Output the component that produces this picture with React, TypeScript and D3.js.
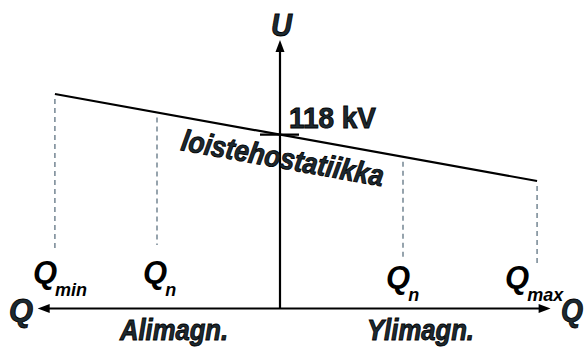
import React from "react";
import * as d3 from "d3";

// ---- data ----
const markerNames = ["Q", "Q", "Q", "Q"];
const markerSubs = ["min", "n", "n", "max"];
const markerQ = [-1.83, -1, 1, 2.09];
const lineQ = [-1.83, 2.09];
const lineU = [122.06, 113.36];
const refU = 118;
const refLabel = "118 kV";
const curveLabel = "loistehostatiikka";
const yAxisLabel = "U";
const xAxisLabel = "Q";
const leftRegion = "Alimagn.";
const rightRegion = "Ylimagn.";

// ---- layout / style ----
const W = 584;
const H = 347;
const FONT = "'Liberation Sans', Arial, sans-serif";
const OUT_FILL = "#1d2a31";
const DASH = "#5f7382";
const axisY = 308.5;
const axisTop = 40;
const qLeftEnd = -1.97;
const qRightEnd = 2.2;
const dashBottoms = [250, 245, 260, 265];
const labelDx = [-22, -14, -17, -32];
const labelY = [283, 283, 288, 288];

export default function App() {
  const x = d3.scaleLinear().domain([-1, 1]).range([157, 403]);
  const y = d3.scaleLinear().domain([lineU[1], lineU[0]]).range([181, 94]);
  const uAt = d3.scaleLinear().domain(lineQ).range(lineU);
  const x0 = x(0);
  const line = d3.line<number>().x((d) => x(d)).y((d) => y(uAt(d)));
  const xl = x(qLeftEnd);
  const xr = x(qRightEnd);
  const yr = y(refU);

  const x1 = x(lineQ[0]);
  const y1 = y(lineU[0]);
  const x2 = x(lineQ[1]);
  const y2 = y(lineU[1]);
  const ang = (Math.atan2(y2 - y1, x2 - x1) * 180) / Math.PI;

  const outlined = {
    fill: OUT_FILL,
    stroke: "#000",
    strokeWidth: 0.9,
    fontFamily: FONT,
    fontSize: 31,
    fontWeight: "bold" as const,
    fontStyle: "italic" as const,
  };

  return (
    <svg
      width={W}
      height={H}
      style={{ position: "fixed", left: 0, top: 0, background: "#fff" }}
    >
      {/* dashed drop lines */}
      {markerQ.map((q, i) => (
        <line
          key={"d" + i}
          x1={x(q)}
          x2={x(q)}
          y1={y(uAt(q)) + 5}
          y2={dashBottoms[i]}
          stroke={DASH}
          strokeWidth={1.3}
          strokeDasharray="5,4"
        />
      ))}
      {/* characteristic */}
      <path d={line(lineQ) || ""} fill="none" stroke="#000" strokeWidth={2.2} />
      {/* reference tick */}
      <line x1={x0 - 20} x2={x0 + 19} y1={yr} y2={yr} stroke="#000" strokeWidth={2.2} />
      {/* axes */}
      <line x1={x0} x2={x0} y1={axisTop + 10} y2={axisY} stroke="#000" strokeWidth={2.2} />
      <path
        d={`M${x0},${axisTop} L${x0 - 4.5},${axisTop + 12} L${x0 + 4.5},${axisTop + 12} Z`}
        fill="#000"
      />
      <line x1={xl + 10} x2={xr - 10} y1={axisY} y2={axisY} stroke="#000" strokeWidth={2.2} />
      <path
        d={`M${xl},${axisY} L${xl + 12},${axisY - 4.5} L${xl + 12},${axisY + 4.5} Z`}
        fill="#000"
      />
      <path
        d={`M${xr},${axisY} L${xr - 12},${axisY - 4.5} L${xr - 12},${axisY + 4.5} Z`}
        fill="#000"
      />
      {/* axis labels */}
      <text x={x0 - 9} y={36} {...outlined} textLength={21} lengthAdjust="spacingAndGlyphs">
        {yAxisLabel}
      </text>
      <text x={9} y={321} {...outlined} textLength={24} lengthAdjust="spacingAndGlyphs">
        {xAxisLabel}
      </text>
      <text x={561} y={321} {...outlined} textLength={22} lengthAdjust="spacingAndGlyphs">
        {xAxisLabel}
      </text>
      <text
        x={120}
        y={340}
        {...outlined}
        fontSize={29}
        textLength={108}
        lengthAdjust="spacingAndGlyphs"
      >
        {leftRegion}
      </text>
      <text
        x={367}
        y={340}
        {...outlined}
        fontSize={29}
        textLength={107}
        lengthAdjust="spacingAndGlyphs"
      >
        {rightRegion}
      </text>
      {/* reference label */}
      <text
        x={x0 + 9}
        y={128}
        {...outlined}
        fontSize={29}
        fontStyle="normal"
        textLength={87}
        lengthAdjust="spacingAndGlyphs"
      >
        {refLabel}
      </text>
      {/* curve label */}
      <text
        x={180}
        y={150}
        {...outlined}
        fontSize={30}
        textLength={205}
        lengthAdjust="spacingAndGlyphs"
        transform={`rotate(${ang.toFixed(2)},180,150)`}
      >
        {curveLabel}
      </text>
      {/* marker labels */}
      {markerQ.map((q, i) => (
        <text
          key={"l" + i}
          x={x(q) + labelDx[i]}
          y={labelY[i]}
          fontFamily={FONT}
          fontWeight="bold"
          fontStyle="italic"
          fontSize={31}
          fill="#000"
        >
          {markerNames[i]}
          <tspan fontSize={18} dx={-2} dy={13}>
            {markerSubs[i]}
          </tspan>
        </text>
      ))}
    </svg>
  );
}
